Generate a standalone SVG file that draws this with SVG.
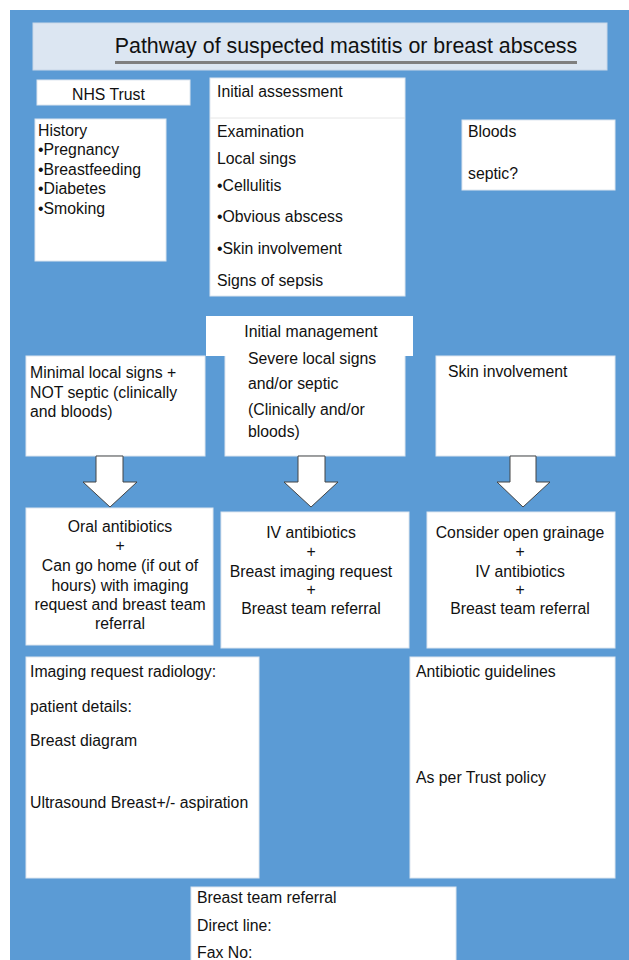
<svg xmlns="http://www.w3.org/2000/svg" width="629" height="960" viewBox="0 0 629 960">
<style>
text{font-family:"Liberation Sans",Arial,sans-serif;font-size:15.8px;fill:#111}
.box{fill:#fff;stroke:#dde6ef;stroke-width:1}
.c{text-anchor:middle}
.arrow{fill:#fff;stroke:#444;stroke-width:1}
</style>
<rect x="0" y="0" width="629" height="960" fill="#fff"/>
<rect x="10" y="10" width="619" height="950" fill="#5B9BD5"/>

<g id="title">
<rect x="33" y="23" width="574" height="47" fill="#DCE6F2" stroke="#c9d7e8"/>
<text x="346" y="53" class="c" style="font-size:21.4px">Pathway of suspected mastitis or breast abscess</text>
<rect x="115" y="61" width="462" height="3" fill="#7F7F7F"/>
</g>

<g id="nhs">
<rect class="box" x="37" y="80" width="153" height="25"/>
<text x="72" y="100">NHS Trust</text>
</g>

<g id="initial-assessment">
<rect class="box" x="210" y="78" width="195" height="218"/>
<line x1="210" y1="118" x2="405" y2="118" stroke="#e6e6e6"/>
<text x="217" y="97">Initial assessment</text>
<text x="217" y="137">Examination</text>
<text x="217" y="164">Local sings</text>
<text x="217" y="191">•Cellulitis</text>
<text x="217" y="222">•Obvious abscess</text>
<text x="217" y="254">•Skin involvement</text>
<text x="217" y="286">Signs of sepsis</text>
</g>

<g id="history">
<rect class="box" x="35" y="119" width="131" height="142"/>
<text x="38" y="136">History</text>
<text x="38" y="155">•Pregnancy</text>
<text x="38" y="175">•Breastfeeding</text>
<text x="38" y="194">•Diabetes</text>
<text x="38" y="214">•Smoking</text>
</g>

<g id="bloods">
<rect class="box" x="462" y="120" width="153" height="70"/>
<text x="468" y="137">Bloods</text>
<text x="468" y="179">septic?</text>
</g>

<g id="minimal">
<rect class="box" x="26" y="356" width="179" height="100"/>
<text x="30" y="378">Minimal local signs +</text>
<text x="30" y="398">NOT septic (clinically</text>
<text x="30" y="417">and bloods)</text>
</g>

<g id="severe">
<rect class="box" x="225" y="340" width="180" height="116"/>
<rect x="206" y="316" width="207" height="40" fill="#fff"/>
<text x="311" y="337" class="c">Initial management</text>
<text x="248" y="364">Severe local signs</text>
<text x="248" y="389">and/or septic</text>
<text x="248" y="415">(Clinically and/or</text>
<text x="248" y="437">bloods)</text>
</g>

<g id="skin">
<rect class="box" x="436" y="356" width="179" height="100"/>
<text x="448" y="377">Skin involvement</text>
</g>

<g id="connectors">
<path class="arrow" d="M96,456 L123,456 L123,482 L137,482 L110,507 L83,482 L96,482 Z"/>
<path class="arrow" d="M298,456 L325,456 L325,482 L338,482 L311,507 L284,482 L298,482 Z"/>
<path class="arrow" d="M510,456 L536,456 L536,482 L550,482 L523,507 L497,482 L510,482 Z"/>
</g>

<g id="oral">
<rect class="box" x="26" y="508" width="187" height="137"/>
<text x="120" y="532" class="c">Oral antibiotics</text>
<text x="120" y="551" class="c">+</text>
<text x="120" y="571" class="c">Can go home (if out of</text>
<text x="120" y="591" class="c">hours) with imaging</text>
<text x="120" y="610" class="c">request and breast team</text>
<text x="120" y="629" class="c">referral</text>
</g>

<g id="iv">
<rect class="box" x="221" y="512" width="188" height="136"/>
<text x="311" y="538" class="c">IV antibiotics</text>
<text x="311" y="557" class="c">+</text>
<text x="311" y="577" class="c">Breast imaging request</text>
<text x="311" y="595" class="c">+</text>
<text x="311" y="614" class="c">Breast team referral</text>
</g>

<g id="consider">
<rect class="box" x="427" y="512" width="188" height="136"/>
<text x="520" y="538" class="c">Consider open grainage</text>
<text x="520" y="557" class="c">+</text>
<text x="520" y="577" class="c">IV antibiotics</text>
<text x="520" y="595" class="c">+</text>
<text x="520" y="614" class="c">Breast team referral</text>
</g>

<g id="imaging">
<rect class="box" x="26" y="657" width="233" height="221"/>
<text x="30" y="677">Imaging request radiology:</text>
<text x="30" y="712">patient details:</text>
<text x="30" y="746">Breast diagram</text>
<text x="30" y="808">Ultrasound Breast+/- aspiration</text>
</g>

<g id="antibiotic">
<rect class="box" x="410" y="657" width="205" height="221"/>
<text x="416" y="677">Antibiotic guidelines</text>
<text x="416" y="783">As per Trust policy</text>
</g>

<g id="referral">
<rect class="box" x="191" y="887" width="265" height="80"/>
<text x="197" y="903">Breast team referral</text>
<text x="197" y="931">Direct line:</text>
<text x="197" y="958">Fax No:</text>
</g>
</svg>
